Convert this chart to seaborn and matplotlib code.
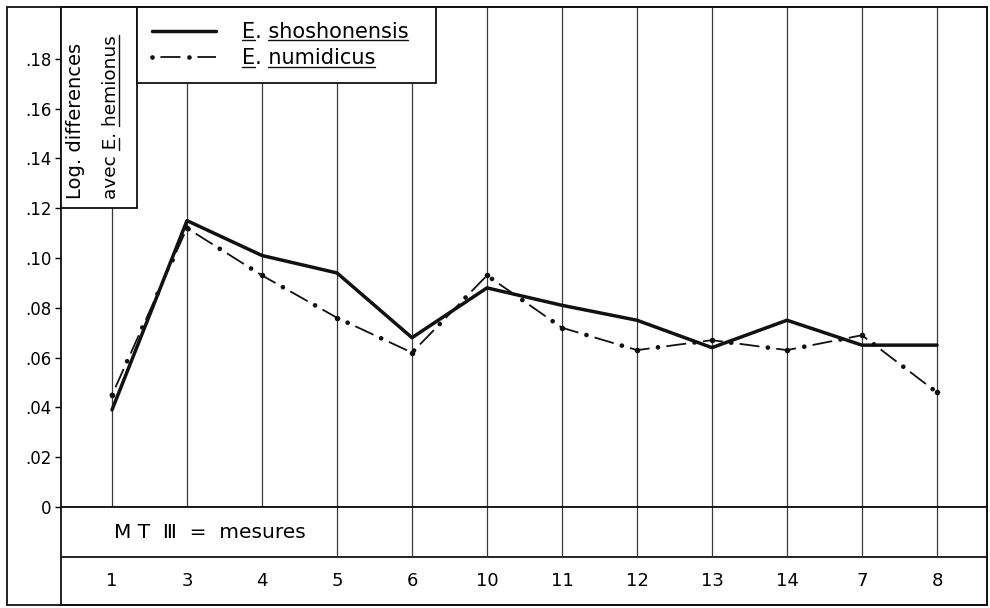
import numpy as np
import pandas as pd
import matplotlib
matplotlib.use("Agg")
import matplotlib.pyplot as plt
import seaborn as sns
from matplotlib.patches import Rectangle
from matplotlib.lines import Line2D
from matplotlib.legend_handler import HandlerTuple

# ---------------- data ----------------
categories = ["1", "3", "4", "5", "6", "10", "11", "12", "13", "14", "7", "8"]
shoshonensis = [0.039, 0.115, 0.101, 0.094, 0.068, 0.088, 0.081, 0.075, 0.064, 0.075, 0.065, 0.065]
numidicus = [0.045, 0.112, 0.093, 0.076, 0.062, 0.093, 0.072, 0.063, 0.067, 0.063, 0.069, 0.046]
ytick_values = [0.0, 0.02, 0.04, 0.06, 0.08, 0.10, 0.12, 0.14, 0.16, 0.18]
ytick_labels = ["0", ".02", ".04", ".06", ".08", ".10", ".12", ".14", ".16", ".18"]
series_names = ["E. shoshonensis", "E. numidicus"]
ylabel_lines = ["Log. differences", "avec E. hemionus"]
row_label = "M T  \u2162  =  mesures"

# ---------------- style ----------------
sns.set_theme(style="white", rc={"axes.edgecolor": "black", "text.color": "black",
                                 "xtick.color": "black", "ytick.color": "black"})
plt.rcParams["font.family"] = ["DejaVu Sans"]
plt.rcParams["lines.scale_dashes"] = False

INK = "#111111"
GRID = "#3a3a3a"
FRAME_LW = 1.3

W, H = 990, 608
fig = plt.figure(figsize=(W / 100, H / 100), dpi=100)
fig.patch.set_facecolor("white")
ax = fig.add_axes([61 / W, 1 - 507 / H, 926 / W, 500 / H])
axb = fig.add_axes([61 / W, 1 - 605 / H, 926 / W, 98 / H])

XLIM = (-0.68, 11.667)
YLIM = (0.0, 0.2008)

pos = np.arange(len(categories))
df = pd.DataFrame({"pos": pos, "mesure": categories,
                   "shoshonensis": shoshonensis, "numidicus": numidicus})

# ---------------- data lines ----------------
sns.lineplot(data=df, x="pos", y="shoshonensis", ax=ax, color=INK, linewidth=2.5,
             errorbar=None, sort=False, zorder=4)
solid = ax.lines[-1]

sns.lineplot(data=df, x="pos", y="numidicus", ax=ax, color=INK, linewidth=1.3,
             errorbar=None, sort=False, zorder=4)
dash = ax.lines[-1]
dash.set_linestyle((20.5, (14.4, 12.2)))

sns.lineplot(data=df, x="pos", y="numidicus", ax=ax, color=INK, linewidth=3.4,
             errorbar=None, sort=False, zorder=4)
dots = ax.lines[-1]
dots.set_linestyle((0, (0.01, 26.59)))
dots.set_dash_capstyle("round")

sns.scatterplot(data=df, x="pos", y="numidicus", ax=ax, color=INK, s=16,
                linewidth=0, zorder=5)

ax.set_xlim(XLIM)
ax.set_ylim(YLIM)
ax.set_xlabel("")
ax.set_ylabel("")
ax.set_xticks([])
ax.set_yticks(ytick_values, ytick_labels)
ax.tick_params(axis="y", direction="out", length=4.5, width=1.0, labelsize=12, pad=2.5,
               left=True)
for sp in ax.spines.values():
    sp.set_visible(True)
    sp.set_color(INK)
    sp.set_linewidth(FRAME_LW)

# ---------------- boxes (y label box and legend box) ----------------
ylab_right = 76 / 926          # axes fraction
leg_right = 375 / 926
ylab_bottom = 0.12 / YLIM[1]   # box bottom sits on the .12 level
leg_bottom = (507 - 83) / 500

ax.add_patch(Rectangle((0, ylab_bottom), ylab_right, 1 - ylab_bottom, transform=ax.transAxes,
                       facecolor="white", edgecolor=INK, lw=FRAME_LW, zorder=3, clip_on=False))
ax.add_patch(Rectangle((ylab_right, leg_bottom), leg_right - ylab_right, 1 - leg_bottom,
                       transform=ax.transAxes, facecolor="white", edgecolor=INK, lw=FRAME_LW,
                       zorder=3, clip_on=False))

# vertical column lines
span = XLIM[1] - XLIM[0]
for p in pos:
    frac = (p - XLIM[0]) / span
    if frac > leg_right:
        top = 1.0
    elif frac > ylab_right:
        top = leg_bottom
    else:
        top = ylab_bottom
    ax.axvline(p, ymin=0, ymax=top, color=GRID, lw=0.9, zorder=1)

# y label texts (rotated)
t1 = ax.text(ylab_right * 0.19, ylab_bottom + 0.018, ylabel_lines[0], rotation=90,
             ha="center", va="bottom", fontsize=14, transform=ax.transAxes, zorder=6)
t2 = ax.text(ylab_right * 0.66, ylab_bottom + 0.018, ylabel_lines[1], rotation=90,
             ha="center", va="bottom", fontsize=13.3, transform=ax.transAxes, zorder=6)

# legend
leg = ax.legend(handles=[solid, (dash, dots)], labels=series_names,
                handler_map={tuple: HandlerTuple(ndivide=1, pad=0)},
                loc="center left",
                bbox_to_anchor=(ylab_right, leg_bottom, leg_right - ylab_right, 1 - leg_bottom),
                bbox_transform=ax.transAxes, frameon=False, fontsize=15,
                handlelength=3.08, handletextpad=1.25, borderaxespad=0.3, borderpad=0.4,
                labelspacing=0.3)
leg.set_zorder(7)

# ---------------- bottom rows ----------------
axb.set_xlim(XLIM)
axb.set_ylim(0, 1)
axb.set_xticks([])
axb.set_yticks([])
for sp in axb.spines.values():
    sp.set_visible(True)
    sp.set_color(INK)
    sp.set_linewidth(FRAME_LW)
row_split = 48 / 98
axb.axhline(row_split, color=INK, lw=FRAME_LW)
label_cols = 3  # the "M T III = mesures" label spans the first three columns
for p in pos[label_cols:]:
    axb.axvline(p, ymin=row_split, ymax=1, color=GRID, lw=0.9)
axb.text((XLIM[0] + pos[label_cols]) / 2 + 0.15, (1 + row_split) / 2, row_label,
         ha="center", va="center", fontsize=14.5)
for p, c in zip(pos, categories):
    axb.text(p, row_split / 2, c, ha="center", va="center", fontsize=13)

# outer frame
fig.add_artist(Rectangle((7 / W, 3 / H), 980 / W, 598 / H, transform=fig.transFigure,
                         fill=False, edgecolor=INK, lw=FRAME_LW))

# ---------------- underlines ----------------
fig.canvas.draw()
renderer = fig.canvas.get_renderer()
to_fig = fig.transFigure.inverted()


def underline(text_obj, pieces, rotated=False):
    fp = text_obj.get_fontproperties()
    s = text_obj.get_text()
    bb = text_obj.get_window_extent(renderer)
    desc = renderer.get_text_width_height_descent("lp", fp, ismath=False)[2]

    def w(sub):
        return renderer.get_text_width_height_descent(sub, fp, ismath=False)[0]

    for piece in pieces:
        end_idx = s.index(piece) + len(piece)
        b = w(s[:end_idx])
        a = b - w(piece)
        if rotated:
            x = bb.x1 - desc + 2.5
            pts = np.array([[x, bb.y0 + a], [x, bb.y0 + b]])
        else:
            y = bb.y0 + desc - 2.5
            pts = np.array([[bb.x0 + a, y], [bb.x0 + b, y]])
        fp_pts = to_fig.transform(pts)
        fig.add_artist(Line2D(fp_pts[:, 0], fp_pts[:, 1], transform=fig.transFigure,
                              color=INK, lw=1.0))


for t in leg.get_texts():
    words = t.get_text().split()
    underline(t, ["E", words[-1]])
underline(t2, ["E", ylabel_lines[1].split()[-1]], rotated=True)

fig.savefig("out.png", dpi=100, facecolor="white")
